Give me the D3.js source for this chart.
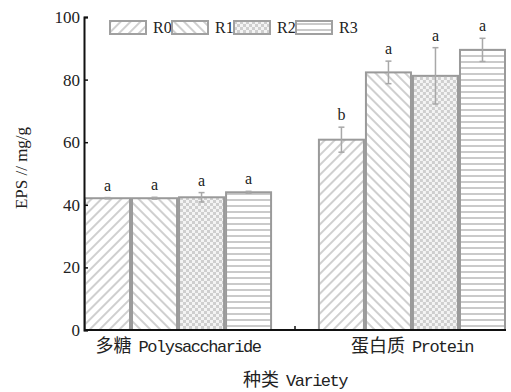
<!DOCTYPE html>
<html>
<head>
<meta charset="utf-8">
<script src="https://cdn.jsdelivr.net/npm/d3@7"></script>
<style>
  body { margin: 0; background: #fff; }
  svg { display: block; }
</style>
</head>
<body>
<svg id="chart" width="511" height="392"></svg>
<script>
// data
const categoriesZh = ['多糖', '蛋白质'];
const categoriesEn = ['Polysaccharide', 'Protein'];
const treatments = ['R0', 'R1', 'R2', 'R3'];
const means = [
    [42.1, 42.1, 42.4, 44.0],
    [60.8, 82.3, 81.2, 89.5]
];
const errors = [
    [0.2, 0.3, 1.5, 0.3],
    [4.0, 3.6, 9.0, 3.7]
];
const letters = [
    ['a', 'a', 'a', 'a'],
    ['b', 'a', 'a', 'a']
];
const yTicks = [0, 20, 40, 60, 80, 100];

const svg = d3.select('#chart');
const margin = { top: 17, right: 5, bottom: 62, left: 84 };
const width = 511 - margin.left - margin.right;
const height = 392 - margin.top - margin.bottom;
const g = svg.append('g').attr('transform', `translate(${margin.left},${margin.top})`);

const serif = '"Liberation Serif", "Times New Roman", serif';
const mono = '"Liberation Mono", monospace';
const cjk = '"Noto Sans CJK SC", sans-serif';

// patterns
const defs = svg.append('defs');
const hatchColor = '#c4c4c4';

const diag = (id, angle) => {
    const p = defs.append('pattern')
        .attr('id', id)
        .attr('patternUnits', 'userSpaceOnUse')
        .attr('width', 7).attr('height', 7)
        .attr('patternTransform', `rotate(${angle})`);
    p.append('rect').attr('width', 7).attr('height', 7).attr('fill', '#fff');
    p.append('line')
        .attr('x1', 1).attr('y1', 0).attr('x2', 1).attr('y2', 7)
        .attr('stroke', hatchColor).attr('stroke-width', 1.6);
};
diag('pR0', 45);
diag('pR1', -45);

const chk = defs.append('pattern')
    .attr('id', 'pR2')
    .attr('patternUnits', 'userSpaceOnUse')
    .attr('width', 6).attr('height', 6);
chk.append('rect').attr('width', 6).attr('height', 6).attr('fill', '#f4f4f4');
chk.append('rect').attr('width', 3).attr('height', 3).attr('fill', '#cfcfcf');
chk.append('rect').attr('x', 3).attr('y', 3).attr('width', 3).attr('height', 3).attr('fill', '#cfcfcf');

const hor = defs.append('pattern')
    .attr('id', 'pR3')
    .attr('patternUnits', 'userSpaceOnUse')
    .attr('width', 6).attr('height', 6);
hor.append('rect').attr('width', 6).attr('height', 6).attr('fill', '#fff');
hor.append('line')
    .attr('x1', 0).attr('y1', 3).attr('x2', 6).attr('y2', 3)
    .attr('stroke', hatchColor).attr('stroke-width', 1.8);

// scales
const x0 = d3.scaleBand().domain(categoriesEn).range([0, width])
    .paddingInner(0.196).paddingOuter(0);
const x1 = d3.scaleBand().domain(treatments).range([0, x0.bandwidth()]).padding(0);
const y = d3.scaleLinear().domain([0, 100]).range([height, 0]);

// bars
categoriesEn.forEach((cat, ci) => {
    const grp = g.append('g').attr('transform', `translate(${x0(cat)},0)`);
    treatments.forEach((t, ti) => {
        const v = means[ci][ti];
        const e = errors[ci][ti];
        const bx = x1(t);
        grp.append('rect')
            .attr('x', bx + 1)
            .attr('y', y(v))
            .attr('width', x1.bandwidth() - 2)
            .attr('height', y(0) - y(v))
            .attr('fill', `url(#p${t})`)
            .attr('stroke', '#9a9a9a')
            .attr('stroke-width', 2);

        const cx = bx + x1.bandwidth() / 2;
        grp.append('line')
            .attr('x1', cx).attr('x2', cx)
            .attr('y1', y(v - e)).attr('y2', y(v + e))
            .attr('stroke', '#a8a8a8').attr('stroke-width', 1.5);
        [v - e, v + e].forEach(val => {
            grp.append('line')
                .attr('x1', cx - 3).attr('x2', cx + 3)
                .attr('y1', y(val)).attr('y2', y(val))
                .attr('stroke', '#a8a8a8').attr('stroke-width', 1.5);
        });

        grp.append('text')
            .attr('x', cx)
            .attr('y', y(v + e) - 7)
            .attr('text-anchor', 'middle')
            .style('font-family', serif)
            .style('font-size', '16px')
            .attr('fill', '#222')
            .text(letters[ci][ti]);
    });
});

// y axis, ticks pointing inward
const yAxis = g.append('g')
    .call(d3.axisLeft(y).tickValues(yTicks).tickSizeInner(-4).tickSizeOuter(-4).tickPadding(4));
yAxis.attr('font-family', null).attr('font-size', null);
yAxis.select('.domain').attr('stroke', '#111').attr('stroke-width', 2);
yAxis.selectAll('.tick line').attr('stroke', '#111').attr('stroke-width', 1.5);
yAxis.selectAll('.tick text')
    .style('font-family', serif)
    .style('font-size', '17px')
    .attr('fill', '#222');

// x axis
g.append('line')
    .attr('x1', 0).attr('x2', width)
    .attr('y1', height).attr('y2', height)
    .attr('stroke', '#111').attr('stroke-width', 2);
const midX = (x0(categoriesEn[0]) + x0.bandwidth() + x0(categoriesEn[1])) / 2;
g.append('line')
    .attr('x1', midX).attr('x2', midX)
    .attr('y1', height).attr('y2', height - 4)
    .attr('stroke', '#111').attr('stroke-width', 1.5);

const mixedLabel = (sel, zh, en) => {
    sel.append('tspan')
        .style('font-family', cjk)
        .style('font-size', '18px')
        .text(zh);
    sel.append('tspan')
        .attr('dx', 7)
        .style('font-family', mono)
        .style('font-size', '17px')
        .style('letter-spacing', '-1.5px')
        .text(en);
};

categoriesEn.forEach((cat, ci) => {
    const t = g.append('text')
        .attr('x', x0(cat) + x0.bandwidth() / 2)
        .attr('y', height + 22)
        .attr('text-anchor', 'middle')
        .attr('fill', '#222');
    mixedLabel(t, categoriesZh[ci], cat);
});

const xTitle = g.append('text')
    .attr('x', width / 2)
    .attr('y', height + 56)
    .attr('text-anchor', 'middle')
    .attr('fill', '#222');
mixedLabel(xTitle, '种类', 'Variety');

svg.append('text')
    .attr('transform', `translate(27,168) rotate(-90)`)
    .attr('text-anchor', 'middle')
    .style('font-family', serif)
    .style('font-size', '17px')
    .attr('fill', '#222')
    .text('EPS // mg/g');

// legend
const legend = svg.append('g').attr('transform', 'translate(110,21)');
treatments.forEach((t, i) => {
    const item = legend.append('g').attr('transform', `translate(${i * 62},0)`);
    item.append('rect')
        .attr('width', 36).attr('height', 13)
        .attr('fill', `url(#p${t})`)
        .attr('stroke', '#a0a0a0').attr('stroke-width', 2);
    item.append('text')
        .attr('x', 43).attr('y', 12)
        .style('font-family', serif)
        .style('font-size', '16px')
        .attr('fill', '#222')
        .text(t);
});
</script>
</body>
</html>
